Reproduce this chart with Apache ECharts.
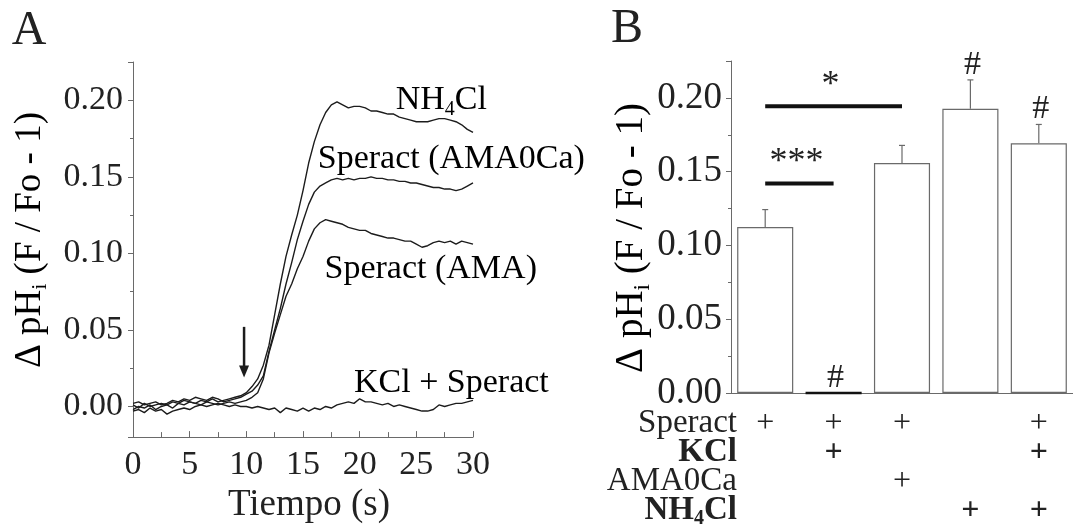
<!DOCTYPE html>
<html>
<head>
<meta charset="utf-8">
<script src="https://cdn.jsdelivr.net/npm/echarts@6/dist/echarts.min.js"></script>
<style>
html, body { margin: 0; padding: 0; background: #fff; }
#chart { width: 1073px; height: 529px; }
</style>
</head>
<body>
<div id="chart"></div>
<script>
// Panel A: registros de pHi en el tiempo (s)
const tiempo = [0, 0.5, 1, 1.5, 2, 2.5, 3, 3.5, 4, 4.5, 5, 5.5, 6, 6.5, 7, 7.5, 8, 8.5, 9, 9.5,
  10, 10.5, 11, 11.5, 12, 12.5, 13, 13.5, 14, 14.5, 15, 15.5, 16, 16.5, 17, 17.5, 18, 18.5, 19, 19.5,
  20, 20.5, 21, 21.5, 22, 22.5, 23, 23.5, 24, 24.5, 25, 25.5, 26, 26.5, 27, 27.5, 28, 28.5, 29, 29.5, 30];

const nh4cl = [0.001, -0.001, 0.002, 0.000, 0.001, 0.002, 0.001, 0.003, 0.002, 0.004, 0.003, 0.002, 0.004, 0.003, 0.005, 0.003, 0.004, 0.005, 0.006, 0.007,
  0.009, 0.013, 0.018, 0.027, 0.040, 0.060, 0.080, 0.098, 0.112, 0.125, 0.141, 0.159, 0.173, 0.184, 0.192, 0.197, 0.199, 0.197, 0.195, 0.196,
  0.196, 0.195, 0.193, 0.193, 0.192, 0.191, 0.191, 0.189, 0.188, 0.187, 0.186, 0.186, 0.186, 0.187, 0.188, 0.188, 0.187, 0.186, 0.184, 0.181, 0.179];

const speractAma0ca = [0.002, 0.003, 0.001, 0.002, 0.003, 0.001, 0.002, 0.004, 0.003, 0.005, 0.004, 0.006, 0.005, 0.004, 0.006, 0.005, 0.003, 0.004, 0.005, 0.006,
  0.008, 0.010, 0.014, 0.020, 0.036, 0.050, 0.064, 0.080, 0.094, 0.109, 0.121, 0.132, 0.140, 0.144, 0.146, 0.148, 0.149, 0.148, 0.149, 0.148,
  0.149, 0.149, 0.150, 0.149, 0.149, 0.148, 0.148, 0.147, 0.147, 0.146, 0.146, 0.145, 0.144, 0.143, 0.143, 0.142, 0.142, 0.141, 0.142, 0.144, 0.146];

const speractAma = [-0.002, 0.000, -0.001, 0.001, -0.002, 0.000, 0.001, -0.001, 0.002, 0.001, 0.003, 0.002, 0.001, 0.003, 0.002, 0.001, 0.002, 0.003, 0.002, 0.003,
  0.004, 0.006, 0.009, 0.018, 0.035, 0.048, 0.060, 0.072, 0.080, 0.090, 0.098, 0.108, 0.116, 0.120, 0.122, 0.121, 0.120, 0.119, 0.117, 0.116,
  0.115, 0.115, 0.113, 0.112, 0.111, 0.110, 0.110, 0.109, 0.108, 0.108, 0.106, 0.104, 0.105, 0.107, 0.108, 0.107, 0.108, 0.106, 0.108, 0.107, 0.106];

const kclSperact = [-0.003, -0.002, -0.004, -0.001, -0.003, -0.002, -0.005, -0.003, -0.002, -0.001, -0.002, 0.000, 0.001, 0.000, 0.001, 0.002, 0.001, 0.000, 0.001, 0.000,
  0.000, -0.001, 0.000, -0.001, -0.002, -0.001, -0.004, -0.001, -0.002, -0.003, -0.001, -0.003, -0.001, -0.002, 0.000, -0.001, 0.001, 0.002, 0.003, 0.002,
  0.005, 0.003, 0.003, 0.002, 0.001, 0.002, 0.000, 0.001, 0.000, -0.001, -0.002, -0.003, -0.003, -0.002, 0.001, 0.000, 0.001, 0.002, 0.002, 0.003, 0.004];

// Panel B: medias y error (solo barra superior)
const condiciones = ['Speract', 'Speract + KCl', 'Speract AMA0Ca', 'NH4Cl', 'Speract + KCl + NH4Cl'];
const media = [0.1125, 0, 0.1558, 0.1926, 0.1693];
const errorSup = [0.0118, 0, 0.012, 0.0196, 0.0127];
const filas = ['Speract', 'KCl', 'AMA0Ca', 'NH4Cl'];
const tabla = [
  [1, 1, 1, 0, 1],
  [0, 1, 0, 0, 1],
  [0, 0, 1, 0, 0],
  [0, 0, 0, 1, 1]
];
const comparaciones = [[0, 2, 0.1944, '*'], [0, 1, 0.1419, '***']];
const conAlmohadilla = [1, 3, 4];

const serif = "'Liberation Serif', 'Times New Roman', serif";
const gris = '#6a6a6a';
const tinta = '#1c1c1c';
const texto = '#222';

const chart = echarts.init(document.getElementById('chart'));

const trazo = (nombre, valores) => ({
  name: nombre,
  type: 'line',
  xAxisIndex: 0,
  yAxisIndex: 0,
  data: valores.map((v, i) => [tiempo[i], v]),
  symbol: 'none',
  lineStyle: { color: tinta, width: 1.4 },
  silent: true
});

const ejeValor = (extra) => Object.assign({
  type: 'value',
  splitLine: { show: false },
  axisLine: { show: true, onZero: false, lineStyle: { color: gris, width: 1 } },
  axisTick: { show: true, length: 5, lineStyle: { color: gris } },
  minorTick: { show: true, splitNumber: 2, length: 3, lineStyle: { color: gris } },
  minorSplitLine: { show: false }
}, extra);

const subRich = (size, weight) => ({
  n: { fontSize: size, fontFamily: serif, color: texto, fontWeight: weight },
  s: { fontSize: Math.round(size * 0.6), fontFamily: serif, color: texto, fontWeight: weight, padding: [Math.round(size * 0.55), 0, 0, 0] }
});

// rotulos de las curvas (texto, t, valor, alineacion)
const rotulos = [
  ['{n|NH}{s|4}{n|Cl}', 27.2, 0.200, 'center'],
  ['{n|Speract (AMA0Ca)}', 16.3, 0.1615, 'left'],
  ['{n|Speract (AMA)}', 16.9, 0.0895, 'left'],
  ['{n|KCl + Speract}', 19.5, 0.0155, 'left']
];

const option = {
  animation: false,
  backgroundColor: '#fff',
  grid: [
    { left: 133, top: 62, width: 340, height: 380 },
    { left: 731, top: 61, width: 343, height: 332 },
    { left: 731, top: 409, width: 343, height: 116 }
  ],
  xAxis: [
    ejeValor({
      gridIndex: 0, min: 0, max: 30, interval: 5,
      axisTick: { show: true, inside: true, length: 6, lineStyle: { color: gris } },
      minorTick: { show: true, splitNumber: 2, length: 5, lineStyle: { color: gris } },
      axisLabel: { fontSize: 34, fontFamily: serif, color: texto, margin: 11 },
      name: 'Tiempo (s)', nameLocation: 'middle', nameGap: 43,
      nameTextStyle: { fontSize: 37, fontFamily: serif, color: texto, padding: [0, 0, 0, 12] }
    }),
    {
      type: 'category', gridIndex: 1, data: condiciones,
      axisLine: { show: true, onZero: false, lineStyle: { color: gris, width: 1 } },
      axisTick: { show: false }, axisLabel: { show: false }
    },
    { type: 'category', gridIndex: 2, data: condiciones, show: false }
  ],
  yAxis: [
    ejeValor({
      gridIndex: 0, min: -0.02, max: 0.225,
      axisLabel: { fontSize: 34, fontFamily: serif, color: texto, margin: 10, showMinLabel: false, showMaxLabel: false,
        formatter: v => v.toFixed(2) }
    }),
    ejeValor({
      gridIndex: 1, min: 0, max: 0.225,
      axisLabel: { fontSize: 37, fontFamily: serif, color: texto, margin: 9, showMaxLabel: false,
        formatter: v => v.toFixed(2) }
    }),
    {
      type: 'category', gridIndex: 2, data: filas, inverse: true,
      axisLine: { show: false }, axisTick: { show: false },
      axisLabel: {
        margin: -6, interval: 0, hideOverlap: false,
        formatter: v => v === 'KCl' ? '{b|KCl}' : v === 'NH4Cl' ? '{b|NH}{bs|4}{b|Cl}' : '{r|' + v + '}',
        rich: {
          r: { fontSize: 33, fontFamily: serif, color: texto },
          b: { fontSize: 33, fontFamily: serif, color: texto, fontWeight: 'bold' },
          bs: { fontSize: 20, fontFamily: serif, color: texto, fontWeight: 'bold', padding: [17, 0, 0, 0] }
        }
      }
    }
  ],
  series: [
    trazo('NH4Cl', nh4cl),
    trazo('Speract (AMA0Ca)', speractAma0ca),
    trazo('Speract (AMA)', speractAma),
    trazo('KCl + Speract', kclSperact),
    {
      // flecha de adicion del speract
      type: 'custom', xAxisIndex: 0, yAxisIndex: 0, silent: true,
      data: [[9.8, 0.052, 0.019]],
      renderItem: (params, api) => {
        const a = api.coord([api.value(0), api.value(1)]);
        const b = api.coord([api.value(0), api.value(2)]);
        return {
          type: 'group', children: [
            { type: 'line', shape: { x1: a[0], y1: a[1], x2: b[0], y2: b[1] - 10 }, style: { stroke: tinta, lineWidth: 2.5 } },
            { type: 'polygon', shape: { points: [[b[0] - 5, b[1] - 12], [b[0] + 5, b[1] - 12], [b[0], b[1]]] }, style: { fill: tinta } }
          ]
        };
      }
    },
    {
      type: 'custom', xAxisIndex: 0, yAxisIndex: 0, silent: true,
      data: rotulos.map(r => [r[1], r[2]]),
      renderItem: (params, api) => {
        const p = api.coord([api.value(0), api.value(1)]);
        const r = rotulos[params.dataIndex];
        return {
          type: 'text', x: p[0], y: p[1],
          style: { text: r[0], rich: subRich(34, 'normal'), align: r[3], verticalAlign: 'middle' }
        };
      }
    },
    {
      type: 'bar', xAxisIndex: 1, yAxisIndex: 1, silent: true,
      barCategoryGap: '18%',
      data: media.map(v => v === 0
        ? { value: v, itemStyle: { borderColor: '#111', borderWidth: 2.5 } }
        : v),
      itemStyle: { color: '#fff', borderColor: gris, borderWidth: 1.2 }
    },
    {
      type: 'custom', xAxisIndex: 1, yAxisIndex: 1, silent: true,
      data: media.map((v, i) => [i, v, v + errorSup[i]]).filter((d, i) => errorSup[i] > 0),
      renderItem: (params, api) => {
        const a = api.coord([api.value(0), api.value(1)]);
        const b = api.coord([api.value(0), api.value(2)]);
        return {
          type: 'group', children: [
            { type: 'line', shape: { x1: a[0], y1: a[1], x2: b[0], y2: b[1] }, style: { stroke: gris, lineWidth: 1.2 } },
            { type: 'line', shape: { x1: b[0] - 3, y1: b[1], x2: b[0] + 3, y2: b[1] }, style: { stroke: gris, lineWidth: 1.2 } }
          ]
        };
      }
    },
    {
      type: 'custom', xAxisIndex: 1, yAxisIndex: 1, silent: true,
      data: comparaciones.map(c => [c[0], c[1], c[2]]),
      renderItem: (params, api) => {
        const a = api.coord([api.value(0), api.value(2)]);
        const b = api.coord([api.value(1), api.value(2)]);
        return {
          type: 'group', children: [
            { type: 'line', shape: { x1: a[0], y1: a[1], x2: b[0], y2: b[1] }, style: { stroke: '#111', lineWidth: 4 } },
            { type: 'text', x: (a[0] + b[0]) / 2 - 3, y: a[1] - 3,
              style: { text: comparaciones[params.dataIndex][3], fontSize: 36, fontFamily: serif, fill: texto, align: 'center', verticalAlign: 'bottom' } }
          ]
        };
      }
    },
    {
      type: 'custom', xAxisIndex: 1, yAxisIndex: 1, silent: true,
      data: conAlmohadilla.map(i => [i, media[i] + errorSup[i]]),
      renderItem: (params, api) => {
        const p = api.coord([api.value(0), api.value(1)]);
        return {
          type: 'text', x: p[0] + 2, y: p[1] - 15,
          style: { text: '#', fontSize: 34, fontFamily: serif, fill: texto, align: 'center', verticalAlign: 'middle' }
        };
      }
    },
    {
      type: 'custom', xAxisIndex: 2, yAxisIndex: 2, silent: true,
      data: tabla.flatMap((fila, r) => fila.map((v, c) => v ? [c, r] : null).filter(Boolean)),
      renderItem: (params, api) => {
        const p = api.coord([api.value(0), api.value(1)]);
        const negrita = api.value(1) === 1 || api.value(1) === 3;
        return {
          type: 'text', x: p[0], y: p[1],
          style: { text: '+', fontSize: 32, fontFamily: serif, fill: texto, fontWeight: negrita ? 'bold' : 'normal', align: 'center', verticalAlign: 'middle' }
        };
      }
    }
  ],
  graphic: [
    { type: 'text', x: 29, y: 31, style: { text: 'A', fontSize: 48, fontFamily: serif, fill: texto, align: 'center', verticalAlign: 'middle' } },
    { type: 'text', x: 627, y: 29, style: { text: 'B', fontSize: 48, fontFamily: serif, fill: texto, align: 'center', verticalAlign: 'middle' } },
    { type: 'text', x: 30, y: 240, rotation: Math.PI / 2,
      style: { text: '{n|Δ pH}{s|i}{n| (F / Fo - 1)}', rich: subRich(37, 'normal'), align: 'center', verticalAlign: 'middle' } },
    { type: 'text', x: 632, y: 238, rotation: Math.PI / 2,
      style: { text: '{n|Δ pH}{s|i}{n| (F / Fo - 1)}', rich: subRich(39, 'normal'), align: 'center', verticalAlign: 'middle' } }
  ]
};

chart.setOption(option);
</script>
</body>
</html>
